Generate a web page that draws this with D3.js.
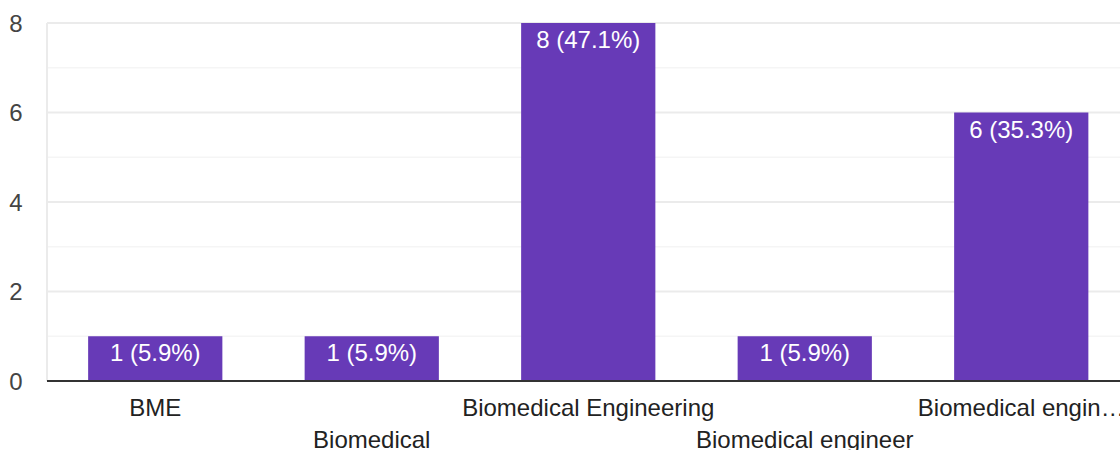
<!DOCTYPE html>
<html>
<head>
<meta charset="utf-8">
<script src="https://cdn.jsdelivr.net/npm/d3@7"></script>
<style>
  html, body { margin: 0; padding: 0; background: #fff; overflow: hidden; }
  text { font-family: Arial, "Liberation Sans", sans-serif; }
</style>
</head>
<body>
<div id="chart"></div>
<script>
// answers and counts
const categories = ["BME", "Biomedical", "Biomedical Engineering", "Biomedical engineer", "Biomedical engineering"];
const counts = [1, 1, 8, 1, 6];
const labels = ["1 (5.9%)", "1 (5.9%)", "8 (47.1%)", "1 (5.9%)", "6 (35.3%)"];
const yTicks = [0, 2, 4, 6, 8];
const yMinor = [1, 3, 5, 7];

const W = 1120, H = 450;
const m = {t: 23, l: 47, b: 69};
const plotRight = 1129.5;

const svg = d3.select("#chart").append("svg")
  .attr("width", W).attr("height", H);

const x = d3.scaleBand().domain(categories)
  .range([m.l, plotRight]).paddingInner(0.38).paddingOuter(0.19);

const y = d3.scaleLinear().domain([0, 8]).range([H - m.b, m.t]);

// minor grid
svg.append("g").selectAll("line").data(yMinor).enter().append("line")
  .attr("x1", m.l).attr("x2", W)
  .attr("y1", d => y(d)).attr("y2", d => y(d))
  .attr("stroke", "#f5f5f5").attr("stroke-width", 1.5);

// major grid
svg.append("g").selectAll("line").data(yTicks.filter(d => d > 0)).enter().append("line")
  .attr("x1", m.l).attr("x2", W)
  .attr("y1", d => y(d)).attr("y2", d => y(d))
  .attr("stroke", "#ebebeb").attr("stroke-width", 2);

// left border
svg.append("line")
  .attr("x1", m.l).attr("x2", m.l)
  .attr("y1", y(8)).attr("y2", y(0))
  .attr("stroke", "#ebebeb").attr("stroke-width", 2);

// y labels
svg.append("g").selectAll("text").data(yTicks).enter().append("text")
  .attr("x", 16).attr("y", d => y(d) + 8.5)
  .attr("text-anchor", "middle")
  .attr("font-size", 24).attr("fill", "#444")
  .text(d => d);

// bars
const bars = svg.append("g").selectAll("g").data(counts).enter().append("g");
bars.append("rect")
  .attr("x", (d, i) => x(categories[i]))
  .attr("y", d => y(d))
  .attr("width", x.bandwidth())
  .attr("height", d => y(0) - y(d))
  .attr("fill", "#673ab7");
bars.append("text")
  .attr("x", (d, i) => x(categories[i]) + x.bandwidth() / 2)
  .attr("y", d => y(d) + 25)
  .attr("text-anchor", "middle")
  .attr("font-size", 24).attr("fill", "#fff")
  .text((d, i) => labels[i]);

// baseline
svg.append("line")
  .attr("x1", m.l).attr("x2", W)
  .attr("y1", y(0)).attr("y2", y(0))
  .attr("stroke", "#333").attr("stroke-width", 2);

// x labels, staggered
const shown = ["BME", "Biomedical", "Biomedical Engineering", "Biomedical engineer", "Biomedical engin\u2026"];
svg.append("g").selectAll("text").data(categories).enter().append("text")
  .attr("x", d => x(d) + x.bandwidth() / 2)
  .attr("y", (d, i) => i % 2 === 0 ? 416 : 448)
  .attr("text-anchor", "middle")
  .attr("font-size", 24).attr("fill", "#222")
  .text((d, i) => shown[i]);
</script>
</body>
</html>
